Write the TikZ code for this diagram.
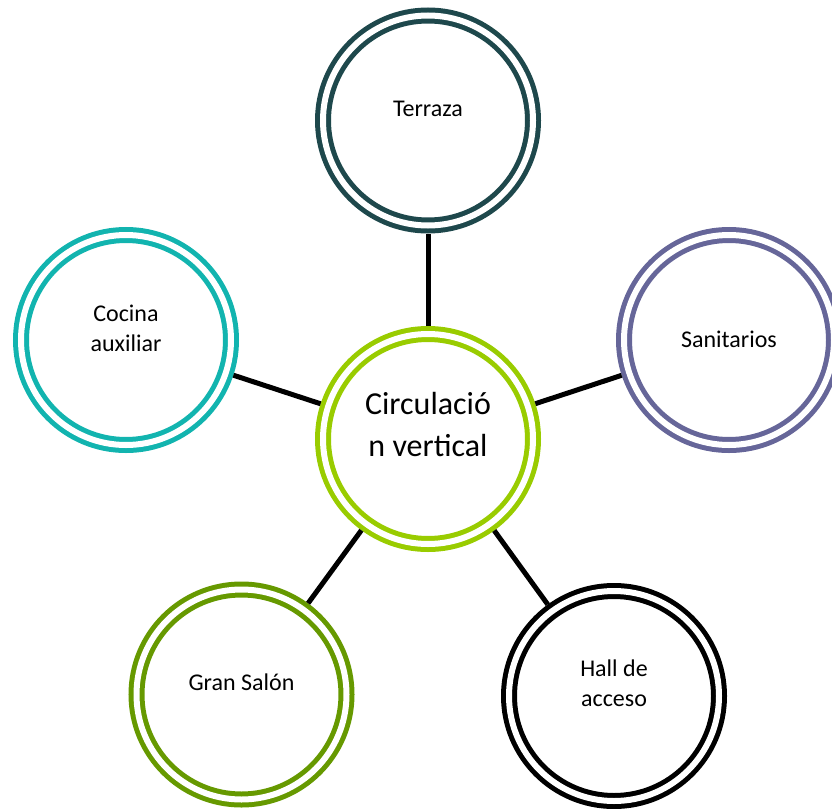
\documentclass[tikz,border=0pt]{standalone}
\usepackage{fontspec}
\setmainfont{Carlito}
\definecolor{cterr}{RGB}{30,72,76}
\definecolor{ccen}{RGB}{153,204,0}
\definecolor{csan}{RGB}{102,102,153}
\definecolor{ccoc}{RGB}{18,180,175}
\definecolor{cgran}{RGB}{102,153,0}
\definecolor{chall}{RGB}{0,0,0}
\begin{document}
\begin{tikzpicture}[x=1pt,y=-1pt,
  ring/.style={circle, minimum size=210pt, inner sep=0pt, outer sep=8pt,
    line width=5pt, draw=#1, double=white, double distance=6pt, fill=white},
  lbl/.style={align=center, inner sep=0pt, text=black,
    font=\fontsize{24}{30}\selectfont},
  biglbl/.style={align=center, inner sep=0pt, text=black,
    font=\fontsize{32}{42.6}\selectfont},
  link/.style={line width=5pt, draw=black}]
\useasboundingbox (0,0) rectangle (832,808);
\node[ring=ccen]  (cen)  at (428,439)   {};
\node[ring=cterr] (terr) at (428,120.5) {};
\node[ring=csan]  (san)  at (729,340)   {};
\node[ring=ccoc]  (coc)  at (126,340)   {};
\node[ring=cgran] (gran) at (241.5,694.5) {};
\node[ring=chall] (hall) at (614,696)   {};
\draw[link] (cen) -- (terr);
\draw[link] (cen) -- (san);
\draw[link] (cen) -- (coc);
\draw[link] (cen) -- (gran);
\draw[link] (cen) -- (hall);
\node[biglbl] (cenT)  at (428,424.5) {Circulació\\n vertical};
\node[lbl]    (terrT) at (428,109)   {Terraza};
\node[lbl]    (sanT)  at (729,339.5) {Sanitarios};
\node[lbl]    (cocT)  at (126,328)   {Cocina\\auxiliar};
\node[lbl]    (granT) at (241.5,682.5) {Gran Salón};
\node[lbl]    (hallT) at (614,683)   {Hall de\\acceso};
\end{tikzpicture}
\end{document}
